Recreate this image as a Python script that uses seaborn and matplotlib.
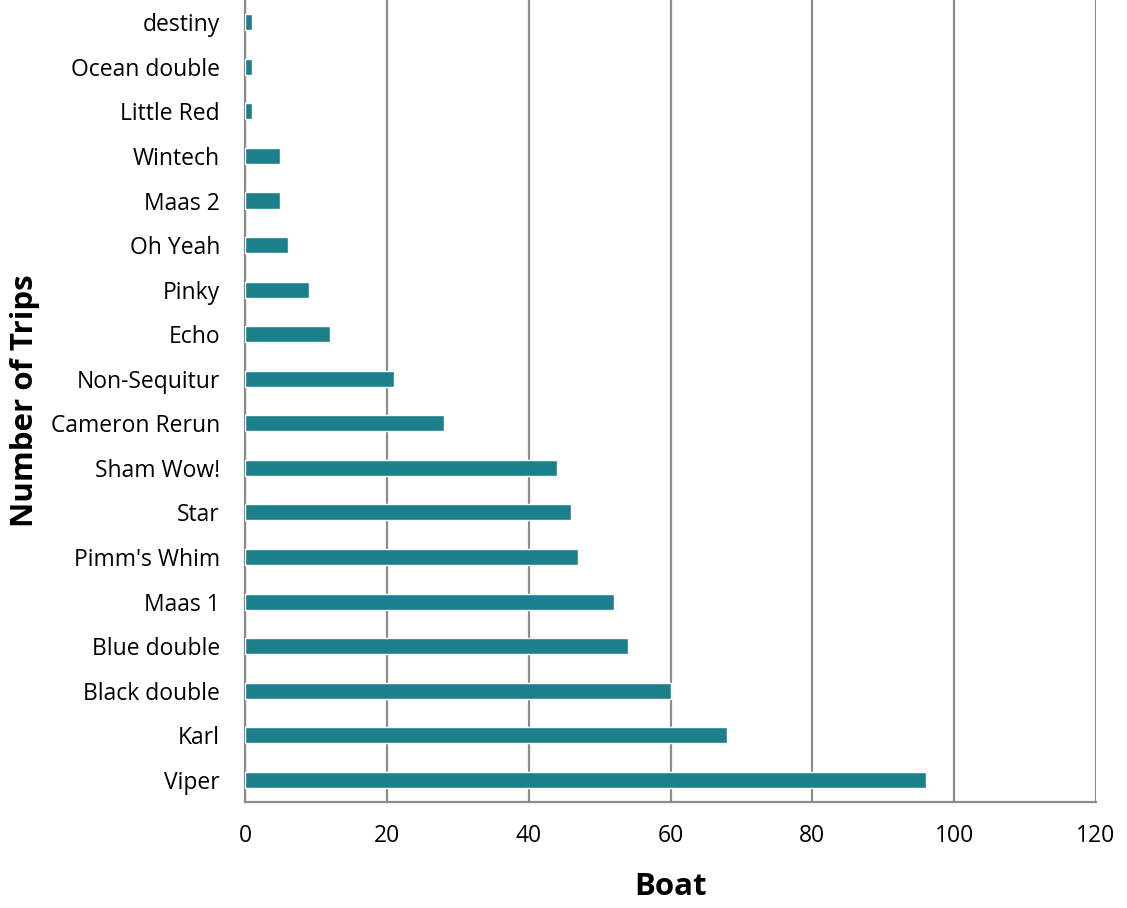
import matplotlib
matplotlib.use("Agg")
import matplotlib.pyplot as plt
import seaborn as sns
import pandas as pd

boats = ["destiny", "Ocean double", "Little Red", "Wintech", "Maas 2", "Oh Yeah",
         "Pinky", "Echo", "Non-Sequitur", "Cameron Rerun", "Sham Wow!", "Star",
         "Pimm's Whim", "Maas 1", "Blue double", "Black double", "Karl", "Viper"]
trips = [1, 1, 1, 5, 5, 6, 9, 12, 21, 28, 44, 46, 47, 52, 54, 60, 68, 96]
x_ticks = [0, 20, 40, 60, 80, 100, 120]

df = pd.DataFrame({"boat": boats, "trips": trips})

sns.set_style("white")
plt.rcParams['font.family'] = ['Open Sans', 'DejaVu Sans']

fig = plt.figure(figsize=(11.27, 9.08), dpi=100)
ax = fig.add_axes([0.2174, 0.1167, 0.7551, 0.8833])

sns.barplot(data=df, x="trips", y="boat", order=boats, color="#1C7F8C",
            saturation=1, width=0.36, ax=ax, zorder=3)

ax.set_xlim(0, 120)
ax.set_ylim(len(boats) - 0.5, -0.5)
ax.set_xticks(x_ticks)
ax.set_xticklabels([str(t) for t in x_ticks])
ax.xaxis.grid(True, color="#8C8C8C", linewidth=1.6, zorder=0)
ax.yaxis.grid(False)
ax.set_axisbelow(True)

for s in ["top", "right"]:
    ax.spines[s].set_visible(False)
for s in ["left", "bottom"]:
    ax.spines[s].set_color("#8C8C8C")
    ax.spines[s].set_linewidth(1.6)

ax.tick_params(axis="both", length=0, labelsize=16.5, colors="black")
ax.tick_params(axis="y", pad=18)
ax.tick_params(axis="x", pad=16)

ax.set_xlabel("Boat", fontsize=22.5, fontweight="bold", labelpad=17, color="black")
ax.set_ylabel("Number of Trips", fontsize=22.5, fontweight="bold", labelpad=8, color="black")

fig.savefig("out.png", dpi=100)
